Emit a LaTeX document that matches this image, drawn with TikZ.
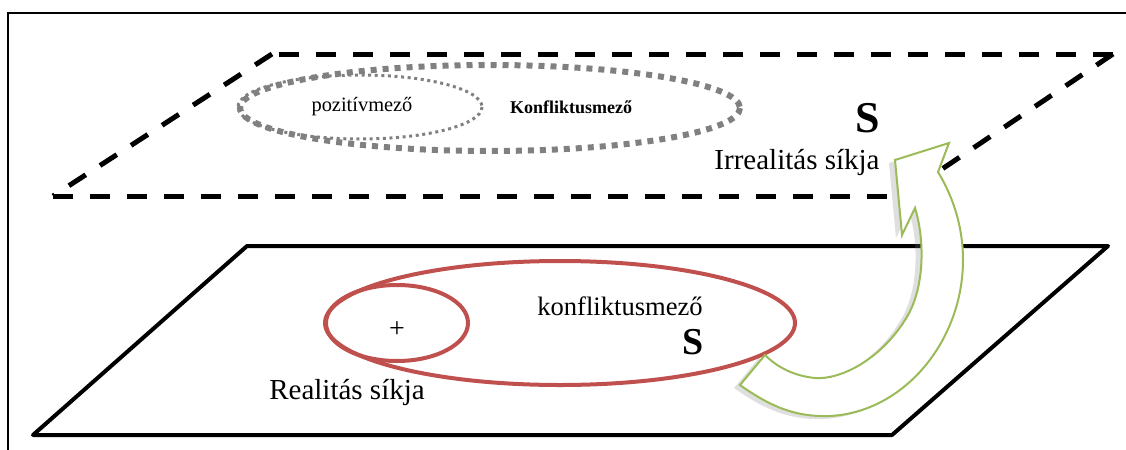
\documentclass[tikz,border=0pt]{standalone}
\usepackage{fontspec}
\setmainfont{Liberation Serif}
\usepackage{tikz}
\usetikzlibrary{shadows,arrows.meta,positioning,calc}
\definecolor{planered}{RGB}{192,80,77}
\definecolor{arrowgreen}{RGB}{155,187,89}
\definecolor{dotgrey}{RGB}{128,128,128}

\begin{document}
\begin{tikzpicture}[x=0.5pt,y=-0.5pt,
    planeline/.style={line width=2pt,line join=round},
    dashplane/.style={line width=2.5pt,dash pattern=on 10pt off 8.5pt},
    txt/.style={inner sep=0pt,font=\fontsize{#1}{#1}\selectfont},
    txt/.default=14.5]
        \useasboundingbox (0,0) rectangle (1126,450);
        % frame
        \draw[line width=1.2pt] (8,450) -- (8,13) -- (1126,13);

        % irrealitas plane
        \draw[dashplane] (53,196) -- (902,196);
        \draw[dashplane] (1113,54) -- (272,54);
        \draw[dashplane] (272,54) -- (53,196);
        \draw[dashplane] (1113,54) -- (902,196);
        \draw[dotgrey,line width=3pt,dash pattern=on 3pt off 3pt] (490,108) ellipse (250 and 43);
        \draw[dotgrey,line width=1.5pt,dash pattern=on 1.5pt off 1.8pt] (360,107) ellipse (122 and 32);
        \node[txt=10.2] (pozitiv) at (362,107) {pozitívmező};
        \node[txt=9,font=\fontsize{9}{9}\selectfont\bfseries] (konfl1) at (571,107) {Konfliktusmező};
        \node[txt=22,font=\fontsize{22}{22}\selectfont\bfseries] (s1) at (868,118) {S};
        \node[txt] (irreal) at (797,163) {Irrealitás síkja};

        % realitas plane
        \draw[planeline] (33,435) -- (247,246) -- (1108,246) -- (892,435) -- cycle;
        \draw[planered,line width=2pt] (560,323) ellipse (235 and 62);
        \draw[planered,line width=2pt] (397,323) ellipse (71 and 38);
        \node[txt=14] (plus) at (397,330) {+};
        \node[txt=13.3] (konfl2) at (620,306) {konfliktusmező};
        \node[txt=19,font=\fontsize{19}{19}\selectfont\bfseries] (s2) at (693,342) {S};
        \node[txt] (real) at (347,392) {Realitás síkja};

        % curved arrow
        \draw[arrowgreen,line width=1pt,fill=white,line join=miter,
              drop shadow={shadow xshift=-3pt,shadow yshift=-1.5pt,opacity=0.25}]
            (740,385) .. controls (775,410) and (800,417) .. (830,416)
            .. controls (905,412) and (963,340) .. (963,260)
            .. controls (963,225) and (952,195) .. (938,172)
            -- (949,143) -- (895,160) -- (902,235) -- (915,208)
            .. controls (925,240) and (925,290) .. (905,320)
            .. controls (880,360) and (840,380) .. (815,378)
            .. controls (795,376) and (778,368) .. (765,355) -- cycle;

      \end{tikzpicture}
\end{document}
